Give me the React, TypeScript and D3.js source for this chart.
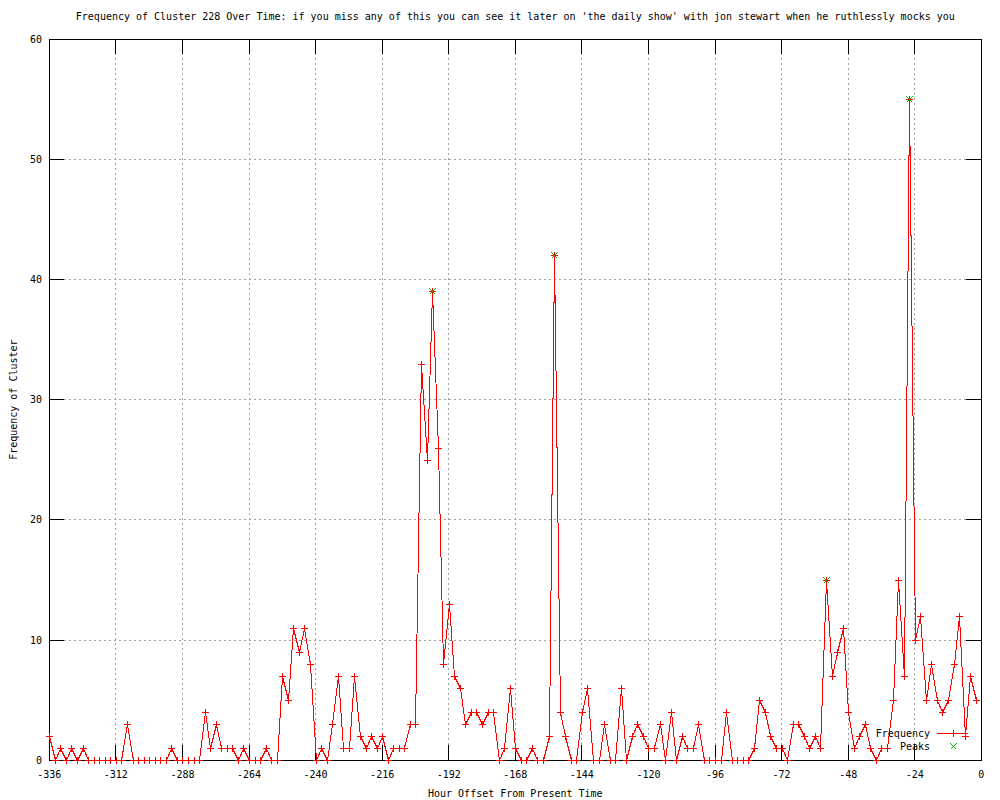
import React from "react";
import * as d3 from "d3";

const titleText =
  "Frequency of Cluster 228 Over Time: if you miss any of this you can see it later on 'the daily show' with jon stewart when he ruthlessly mocks you";
const xLabel = "Hour Offset From Present Time";
const yLabel = "Frequency of Cluster";

// hours from -336 to -2, every 2 hours (category index)
const hours: number[] = d3.range(-336, 0, 2);

const frequency: number[] = [
  2, 0, 1, 0, 1, 0, 1, 0, 0, 0, 0, 0, 0, 0, 3, 0, 0, 0, 0, 0, 0, 0, 1, 0, 0, 0, 0, 0,
  4, 1, 3, 1, 1, 1, 0, 1, 0, 0, 0, 1, 0, 0, 7, 5, 11, 9, 11, 8, 0, 1, 0, 3, 7, 1, 1, 7,
  2, 1, 2, 1, 2, 0, 1, 1, 1, 3, 3, 33, 25, 39, 26, 8, 13, 7, 6, 3, 4, 4, 3, 4, 4, 0,
  1, 6, 1, 0, 0, 1, 0, 0, 2, 42, 4, 2, 0, 0, 4, 6, 0, 0, 3, 0, 0, 6, 0, 2, 3, 2, 1, 1,
  3, 0, 4, 0, 2, 1, 1, 3, 0, 0, 0, 0, 4, 0, 0, 0, 0, 1, 5, 4, 2, 1, 1, 0, 3, 3, 2, 1,
  2, 1, 15, 7, 9, 11, 4, 1, 2, 3, 1, 0, 1, 1, 5, 15, 7, 55, 10, 12, 5, 8, 5, 4, 5, 8,
  12, 2, 7, 5,
];

const peakHours: number[] = [-198, -154, -56, -26];
const peakValues: number[] = [39, 42, 15, 55];

const xTicks: number[] = [-336, -312, -288, -264, -240, -216, -192, -168, -144, -120, -96, -72, -48, -24, 0];
const yTicks: number[] = [0, 10, 20, 30, 40, 50, 60];

const W = 1000;
const H = 800;
const L = 49.3;
const R = 981.3;
const T = 39;
const B = 760.3;
const TICK = 15;
const FONT = "'DejaVu Sans Mono', 'Liberation Mono', monospace";
const RED = "#ff0000";
const GREEN = "#00c000";

export default function App() {
  const x = d3.scaleLinear().domain([-336, 0]).range([L, R]);
  const y = d3.scaleLinear().domain([0, 60]).range([B, T]);

  const pts: [number, number][] = hours.map((h, i) => [h, frequency[i]]);
  const line = d3
    .line<[number, number]>()
    .x((d) => Math.round(x(d[0])) + 0.5)
    .y((d) => Math.round(y(d[1])) + 0.5)(pts) as string;

  const plus = (cx: number, cy: number, s = 3.5) =>
    `M${cx - s},${cy}H${cx + s}M${cx},${cy - s}V${cy + s}`;
  const cross = (cx: number, cy: number, s = 3) =>
    `M${cx - s},${cy - s}L${cx + s},${cy + s}M${cx - s},${cy + s}L${cx + s},${cy - s}`;

  const legY1 = 733;
  const legY2 = 746;

  return (
    <svg
      width={W}
      height={H}
      viewBox={`0 0 ${W} ${H}`}
      style={{ position: "absolute", left: 0, top: 0, background: "#fff" }}
      fontFamily={FONT}
      fontSize={10}
    >
      <rect x={0} y={0} width={W} height={H} fill="#fff" />
      {/* grid */}
      <g stroke="#a0a0a0" strokeWidth={1} strokeDasharray="2,3" shapeRendering="crispEdges">
        {xTicks.slice(1, -1).map((t) => (
          <line key={`gx${t}`} x1={x(t)} x2={x(t)} y1={B} y2={T} />
        ))}
        {yTicks.slice(1, -1).map((t) => (
          <line key={`gy${t}`} x1={L} x2={R} y1={y(t)} y2={y(t)} />
        ))}
      </g>
      {/* ticks */}
      <g stroke="#000" strokeWidth={1} shapeRendering="crispEdges">
        {xTicks.map((t) => (
          <g key={`tx${t}`}>
            <line x1={x(t)} x2={x(t)} y1={B} y2={B - TICK} />
            <line x1={x(t)} x2={x(t)} y1={T} y2={T + TICK} />
          </g>
        ))}
        {yTicks.map((t) => (
          <g key={`ty${t}`}>
            <line x1={L} x2={L + TICK} y1={y(t)} y2={y(t)} />
            <line x1={R} x2={R - TICK} y1={y(t)} y2={y(t)} />
          </g>
        ))}
        <rect x={L} y={T} width={R - L} height={B - T} fill="none" />
      </g>
      {/* tick labels */}
      <g fill="#000">
        {xTicks.map((t) => (
          <text key={`lx${t}`} x={x(t)} y={778} textAnchor="middle">
            {t === 0 ? "0" : `-${Math.abs(t)}`}
          </text>
        ))}
        {yTicks.map((t) => (
          <text key={`ly${t}`} x={42} y={y(t) + 3.5} textAnchor="end">
            {t}
          </text>
        ))}
      </g>
      {/* data line */}
      <path d={line} fill="none" stroke={RED} strokeWidth={1} shapeRendering="crispEdges" />
      <g stroke={RED} strokeWidth={1} fill="none" shapeRendering="crispEdges">
        {pts.map((d, i) => (
          <path key={`p${i}`} d={plus(Math.round(x(d[0])) + 0.5, Math.round(y(d[1])) + 0.5)} />
        ))}
      </g>
      {/* peaks */}
      <g stroke={GREEN} strokeWidth={1} fill="none" shapeRendering="crispEdges">
        {peakHours.map((h, i) => (
          <path key={`k${i}`} d={cross(Math.round(x(h)) + 0.5, Math.round(y(peakValues[i])) + 0.5)} />
        ))}
      </g>
      {/* legend */}
      <text x={930} y={legY1 + 3.5} textAnchor="end">Frequency</text>
      <line x1={937} x2={968} y1={legY1 + 0.5} y2={legY1 + 0.5} stroke={RED} strokeWidth={1} shapeRendering="crispEdges" />
      <path d={plus(953.5, legY1 + 0.5)} stroke={RED} strokeWidth={1} fill="none" shapeRendering="crispEdges" />
      <text x={930} y={legY2 + 3.5} textAnchor="end">Peaks</text>
      <path d={cross(953.5, legY2 + 0.5)} stroke={GREEN} strokeWidth={1} fill="none" shapeRendering="crispEdges" />
      {/* titles */}
      <text x={(L + R) / 2} y={20} textAnchor="middle">{titleText}</text>
      <text x={(L + R) / 2} y={797} textAnchor="middle">{xLabel}</text>
      <text
        transform={`translate(16.5, ${(T + B) / 2}) rotate(-90)`}
        textAnchor="middle"
      >
        {yLabel}
      </text>
    </svg>
  );
}
